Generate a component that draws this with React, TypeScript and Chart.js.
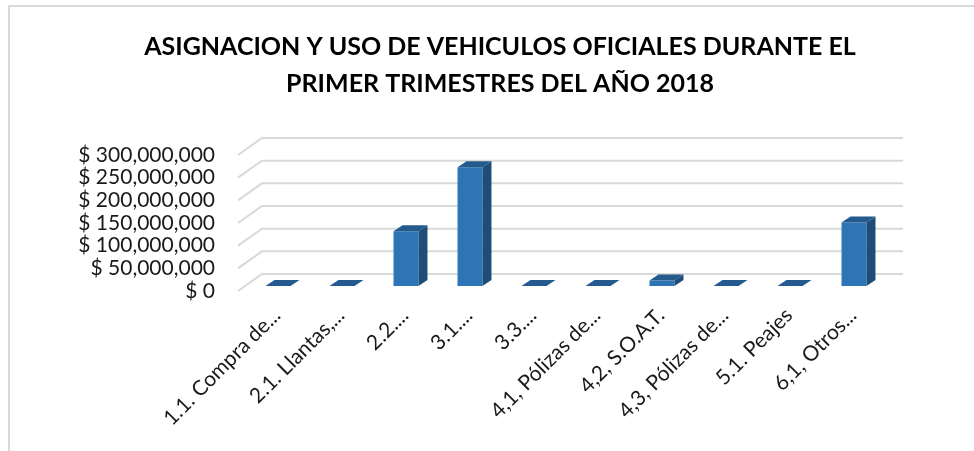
import React, { useEffect, useRef } from 'react';
import { Chart, registerables } from 'chart.js';

Chart.register(...registerables);

const TITLE_LINES = [
  'ASIGNACION Y USO DE VEHICULOS OFICIALES DURANTE EL',
  'PRIMER TRIMESTRES DEL AÑO 2018',
];

const CATEGORIES = [
  '1.1. Compra de...',
  '2.1. Llantas,...',
  '2.2....',
  '3.1....',
  '3.3....',
  '4,1, Pólizas de...',
  '4,2, S.O.A.T.',
  '4,3, Pólizas de...',
  '5.1. Peajes',
  '6,1, Otros...',
];

const VALUES = [0, 0, 121000000, 262000000, 0, 0, 12000000, 0, 0, 140000000];

const Y_MIN = 0;
const Y_MAX = 300000000;
const Y_STEP = 50000000;

const FONT = 'Lato, "Noto Sans", sans-serif';
const TEXT_COLOR = '#1a1a1a';
const GRID_COLOR = '#d9d9d9';
const FRONT_COLOR = '#2E75B6';
const TOP_COLOR = '#245A8D';
const SIDE_COLOR = '#1F4D78';

const WALL_DX = 24;
const WALL_DY = -17;
const BAR_SHIFT_X = 7;
const BAR_SHIFT_Y = -5;
const BAR_DX = 9;
const BAR_DY = -6;

const formatMoney = (v: number) => '$ ' + Math.round(v).toLocaleString('en-US');

const frame3d = {
  id: 'frame3d',
  beforeDraw(chart: any) {
    const ctx = chart.ctx;
    ctx.save();
    ctx.fillStyle = '#ffffff';
    ctx.fillRect(0, 0, chart.width, chart.height);
    ctx.strokeStyle = GRID_COLOR;
    ctx.lineWidth = 2;
    ctx.beginPath();
    ctx.moveTo(9, chart.height);
    ctx.lineTo(9, 6);
    ctx.lineTo(chart.width, 6);
    ctx.stroke();
    ctx.restore();
  },
  beforeDatasetsDraw(chart: any) {
    const ctx = chart.ctx;
    const ys = chart.scales.y;
    const { left, right } = chart.chartArea;
    ctx.save();
    ctx.strokeStyle = GRID_COLOR;
    ctx.lineWidth = 2;
    ys.ticks.forEach((t: any) => {
      const py = ys.getPixelForValue(t.value);
      ctx.beginPath();
      ctx.moveTo(left - 1, py);
      ctx.lineTo(left - 1 + WALL_DX, py + WALL_DY);
      ctx.lineTo(right + WALL_DX, py + WALL_DY);
      ctx.stroke();
    });
    ctx.restore();
    ctx.save();
    ctx.translate(BAR_SHIFT_X, BAR_SHIFT_Y);
  },
  afterDatasetsDraw(chart: any) {
    const ctx = chart.ctx;
    const meta = chart.getDatasetMeta(0);
    meta.data.forEach((el: any) => {
      const { x, y, base, width } = el.getProps(['x', 'y', 'base', 'width'], true);
      const l = x - width / 2;
      const r = x + width / 2;
      ctx.fillStyle = SIDE_COLOR;
      ctx.beginPath();
      ctx.moveTo(r, y);
      ctx.lineTo(r + BAR_DX, y + BAR_DY);
      ctx.lineTo(r + BAR_DX, base + BAR_DY);
      ctx.lineTo(r, base);
      ctx.closePath();
      ctx.fill();
      ctx.fillStyle = TOP_COLOR;
      ctx.beginPath();
      ctx.moveTo(l, y);
      ctx.lineTo(r, y);
      ctx.lineTo(r + BAR_DX, y + BAR_DY);
      ctx.lineTo(l + BAR_DX, y + BAR_DY);
      ctx.closePath();
      ctx.fill();
    });
    ctx.restore();
  },
  afterDraw(chart: any) {
    const ctx = chart.ctx;
    ctx.save();
    ctx.fillStyle = '#000000';
    ctx.font = `bold 25px ${FONT}`;
    ctx.textAlign = 'center';
    ctx.textBaseline = 'middle';
    ctx.fillText(TITLE_LINES[0], 500, 47);
    ctx.fillText(TITLE_LINES[1], 500, 84);
    ctx.restore();
  },
};

export default function App() {
  const canvasRef = useRef<HTMLCanvasElement | null>(null);

  useEffect(() => {
    if (!canvasRef.current) return;
    const chart = new Chart(canvasRef.current, {
      type: 'bar',
      data: {
        labels: CATEGORIES,
        datasets: [
          {
            data: VALUES,
            backgroundColor: FRONT_COLOR,
            borderWidth: 0,
            categoryPercentage: 1,
            barPercentage: 0.39,
            clip: false as any,
          },
        ],
      },
      options: {
        responsive: false,
        animation: false,
        devicePixelRatio: 1,
        layout: { padding: { top: 155, right: 95, bottom: 0, left: 0 } },
        plugins: {
          legend: { display: false },
          title: { display: false },
          tooltip: { enabled: false },
        },
        scales: {
          x: {
            grid: { display: false, drawTicks: false },
            border: { display: false },
            ticks: {
              autoSkip: false,
              minRotation: 45,
              maxRotation: 45,
              padding: 12,
              labelOffset: 6,
              color: TEXT_COLOR,
              font: { family: FONT, size: 21 },
            },
            afterFit: (s: any) => {
              s.height = 160;
            },
          },
          y: {
            min: Y_MIN,
            max: Y_MAX,
            grid: { display: false, drawTicks: false },
            border: { display: false },
            ticks: {
              stepSize: Y_STEP,
              autoSkip: false,
              padding: 24,
              color: TEXT_COLOR,
              font: { family: FONT, size: 21 },
              callback: (v: any) => formatMoney(Number(v)),
            },
            afterFit: (s: any) => {
              s.width = 239;
            },
          },
        },
      },
      plugins: [frame3d],
    });
    return () => chart.destroy();
  }, []);

  return (
    <div style={{ position: 'absolute', left: 0, top: 0, width: 974, height: 451 }}>
      <canvas ref={canvasRef} width={974} height={451} style={{ width: 974, height: 451 }} />
    </div>
  );
}
